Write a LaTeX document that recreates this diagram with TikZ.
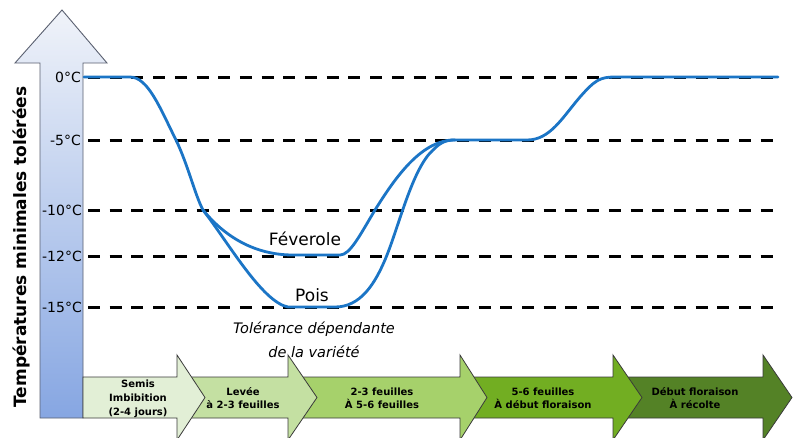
\documentclass[tikz,border=0pt]{standalone}
\usepackage{fontspec}
\setmainfont{DejaVu Sans}
\definecolor{curveblue}{HTML}{1B75C6}
\definecolor{axtop}{HTML}{F0F3F9}
\definecolor{axbot}{HTML}{86A6E2}
\definecolor{axline}{HTML}{5A6070}
\definecolor{arrline}{HTML}{3A3A3A}
\definecolor{gA}{HTML}{E2EFD6}
\definecolor{gB}{HTML}{C4E0A2}
\definecolor{gC}{HTML}{A6D16B}
\definecolor{gD}{HTML}{72AE22}
\definecolor{gE}{HTML}{548226}
\begin{document}
\begin{tikzpicture}[x=1pt,y=-1pt,
  dashline/.style={line width=3pt, dash pattern=on 12pt off 9.7pt},
  curve/.style={line width=2.8pt, draw=curveblue, line join=round, line cap=round},
  stage/.style={draw=arrline, line width=0.8pt, line join=miter},
  stagetxt/.style={font=\fontsize{10}{13}\selectfont\bfseries, align=center, inner sep=0pt},
  templab/.style={font=\fontsize{14}{16}\selectfont, anchor=east, inner sep=0pt},
  curvelab/.style={font=\fontsize{17}{20}\selectfont, inner sep=0pt}]
\useasboundingbox (0,0) rectangle (800,437);
\clip (0,0) rectangle (800,437);
\fill[white] (0,0) rectangle (800,437);

% vertical axis arrow
\shade[top color=axtop, bottom color=axbot, draw=axline, line width=0.9pt]
  (40,418) -- (40,63) -- (15,63) -- (62,10) -- (107,63) -- (83,63) -- (83,418) -- cycle;

% dashed level lines
\foreach \yy in {77,140,210,256,307}
  \draw[dashline] (88,\yy) -- (778,\yy);

% temperature labels
\node[templab] (t0) at (81,77) {0°C};
\node[templab] (t5) at (81,140) {-5°C};
\node[templab] (t10) at (82,210) {-10°C};
\node[templab] (t12) at (82,256) {-12°C};
\node[templab] (t15) at (82,307) {-15°C};

% axis title
\node[font=\fontsize{17}{20}\selectfont\bfseries, rotate=90, inner sep=0pt] (ytitle) at (21,247) {Températures minimales tolérées};

% curves
\draw[curve] (84,77) -- (130,77) .. controls (148,77) and (160,108) .. (176,140)
  .. controls (188,165) and (195,195) .. (203,210)
  .. controls (225,237) and (255,255) .. (293,255) -- (340,255)
  .. controls (350,255) and (360,235) .. (375,210)
  .. controls (395,178) and (420,142) .. (452,140) -- (527,140)
  .. controls (550,140) and (562,118) .. (580,97)
  .. controls (595,80) and (600,77) .. (615,77) -- (778,77);
\draw[curve] (203,210)
  .. controls (228,242) and (262,302) .. (288,307) -- (335,307)
  .. controls (360,307) and (375,285) .. (387,255)
  .. controls (400,222) and (413,168) .. (433,150)
  .. controls (440,143) and (445,140) .. (455,140);

\node[curvelab] (fev) at (305,239) {Féverole};
\node[curvelab] (pois) at (312,295) {Pois};
\node[font=\fontsize{14.5}{24}\selectfont\itshape, align=center, inner sep=0pt] (tol) at (314,340) {Tolérance dépendante\\de la variété};

% stage arrows (last first, so earlier ones lie on top)
\filldraw[stage, fill=gE] (613,377) -- (763,377) -- (763,355) -- (792,397.5) -- (763,440) -- (763,418) -- (613,418) -- cycle;
\filldraw[stage, fill=gD] (460,377) -- (613,377) -- (613,355) -- (642,397.5) -- (613,440) -- (613,418) -- (460,418) -- cycle;
\filldraw[stage, fill=gC] (288,377) -- (460,377) -- (460,355) -- (487,397.5) -- (460,440) -- (460,418) -- (288,418) -- cycle;
\filldraw[stage, fill=gB] (177,377) -- (288,377) -- (288,355) -- (317,397.5) -- (288,440) -- (288,418) -- (177,418) -- cycle;
\filldraw[stage, fill=gA] (83,377) -- (177,377) -- (177,355) -- (205,397.5) -- (177,440) -- (177,418) -- (83,418) -- cycle;

\node[stagetxt, font=\fontsize{10}{14}\selectfont\bfseries] (s1) at (138,399) {Semis\\Imbibition\\(2-4 jours)};
\node[stagetxt] (s2) at (243,398) {Levée\\à 2-3 feuilles};
\node[stagetxt] (s3) at (382,398) {2-3 feuilles\\À 5-6 feuilles};
\node[stagetxt] (s4) at (543,398) {5-6 feuilles\\À début floraison};
\node[stagetxt] (s5) at (695,398) {Début floraison\\À récolte};
\end{tikzpicture}
\end{document}
